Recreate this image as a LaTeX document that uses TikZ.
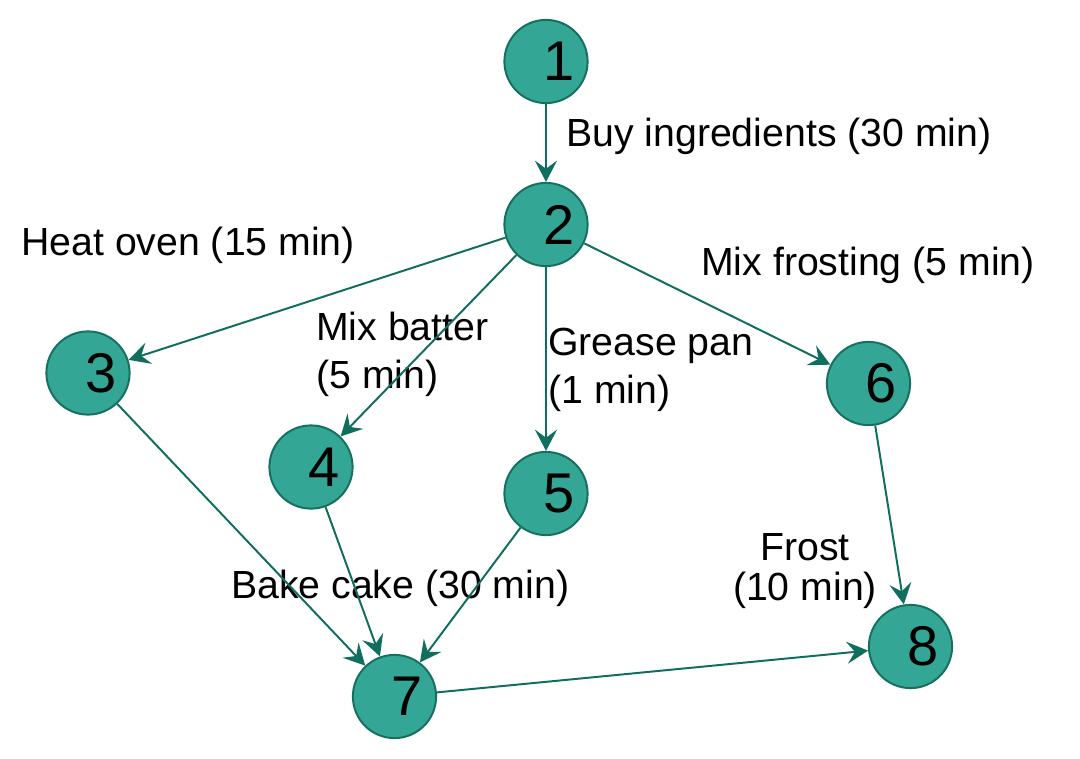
\documentclass[tikz,border=0pt]{standalone}
\usepackage{fontspec}
\setmainfont{Liberation Sans}
\usetikzlibrary{arrows.meta}

\definecolor{evtfill}{RGB}{51,166,150}
\definecolor{evtline}{RGB}{22,112,96}
\definecolor{flowline}{RGB}{16,110,94}

\begin{document}
\begin{tikzpicture}[x=0.025cm, y=-0.025cm,
    evt/.style={circle, draw=evtline, fill=evtfill, line width=1.4pt, minimum size=2.08cm, inner sep=0pt,
        font=\fontsize{39.8}{40}\selectfont, execute at begin node={\hspace*{0.65cm}}},
    act/.style={inner sep=0pt, font=\fontsize{27.9}{34.1}\selectfont},
    flow/.style={draw=flowline, line width=1.4pt, -{Stealth[length=0.53cm, width=0.55cm, inset=0.2cm]}}]
    \useasboundingbox (0, 0) rectangle (1080, 758);

    \node[evt] at (546, 61.5) (n1) {1};
    \node[evt] at (546, 224.5) (n2) {2};
    \node[evt] at (88, 373) (n3) {3};
    \node[evt] at (311, 467) (n4) {4};
    \node[evt] at (546, 493.5) (n5) {5};
    \node[evt] at (868.5, 383.5) (n6) {6};
    \node[evt] at (394.5, 696.5) (n7) {7};
    \node[evt] at (910.5, 646.5) (n8) {8};

    % base of a two-line label is its last line
    \node[act, anchor=base west] at (566, 146) (buy) {Buy ingredients (30 min)};
    \node[act, anchor=base west] at (21, 255) (heat) {Heat oven (15 min)};
    \node[act, anchor=base west] at (701, 275) (frosting) {Mix frosting (5 min)};
    \node[act, anchor=base west, align=left] at (316, 388) (batter) {Mix batter\\(5 min)};
    \node[act, anchor=base west, align=left] at (548, 403) (grease) {Grease pan\\(1 min)};
    \node[act, anchor=base west] at (231, 598) (bake) {Bake cake (30 min)};
    \node[act, anchor=base, align=center] at (805, 600) (frost) {Frost\\[-0.22cm](10 min)};

    \draw[flow] (n1) -- (n2);
    \draw[flow] (n2) -- (n3);
    \draw[flow] (n2) -- (n4);
    \draw[flow] (n2) -- (n5);
    \draw[flow] (n2) -- (n6);
    \draw[flow] (n3) -- (n7);
    \draw[flow] (n4) -- (n7);
    \draw[flow] (n5) -- (n7);
    \draw[flow] (n6) -- (n8);
    \draw[flow] (n7) -- (n8);
\end{tikzpicture}
\end{document}
